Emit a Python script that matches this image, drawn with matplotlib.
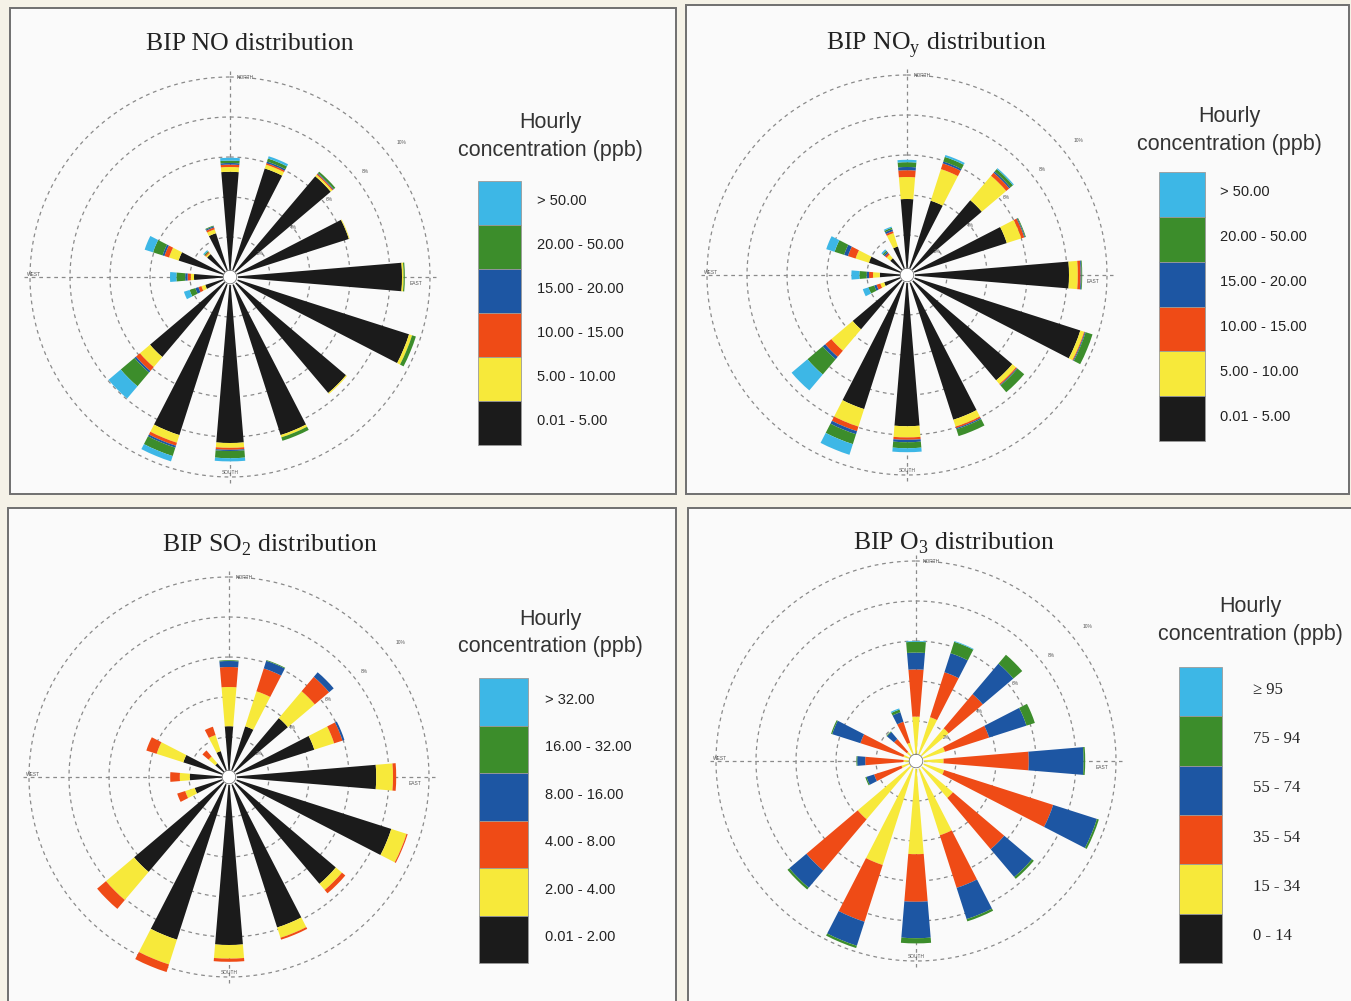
import numpy as np
import matplotlib
matplotlib.use("Agg")
import matplotlib.pyplot as plt
from matplotlib.patches import Rectangle

plt.rcParams["mathtext.fontset"] = "custom"
plt.rcParams["mathtext.rm"] = "Liberation Serif"

W, H = 1351, 1001

# Compass sectors, clockwise from north
directions = ["N", "NNE", "NE", "ENE", "E", "ESE", "SE", "SSE",
              "S", "SSW", "SW", "WSW", "W", "WNW", "NW", "NNW"]

# Concentration-class colours, lowest class first (drawn from the centre out)
class_colors = ["#1b1b1b", "#f7e93a", "#ef4b16", "#1d56a3", "#3c8d2b", "#3db7e6"]

# Frequency of each concentration class per direction (one row per class,
# rows ordered lowest class to highest; unit = one ring of the rose)
no_freq = [
    [2.63, 2.85, 3.30, 3.12, 4.30, 4.70, 3.80, 4.15, 4.15, 4.15, 2.62, 0.65, 0.90, 1.35, 0.75, 1.15],
    [0.12, 0.10, 0.05, 0.02, 0.04, 0.08, 0.03, 0.06, 0.12, 0.20, 0.33, 0.10, 0.08, 0.25, 0.04, 0.10],
    [0.06, 0.04, 0.03, 0.00, 0.00, 0.00, 0.00, 0.00, 0.05, 0.08, 0.13, 0.08, 0.08, 0.12, 0.03, 0.05],
    [0.04, 0.04, 0.02, 0.00, 0.00, 0.00, 0.00, 0.00, 0.03, 0.05, 0.05, 0.08, 0.06, 0.05, 0.00, 0.03],
    [0.06, 0.08, 0.05, 0.00, 0.03, 0.10, 0.00, 0.09, 0.18, 0.22, 0.45, 0.15, 0.22, 0.25, 0.03, 0.02],
    [0.07, 0.06, 0.00, 0.00, 0.00, 0.00, 0.00, 0.00, 0.08, 0.14, 0.40, 0.15, 0.16, 0.22, 0.03, 0.00],
]
noy_freq = [
    [1.90, 1.95, 2.45, 2.62, 4.05, 4.55, 3.45, 3.80, 3.78, 3.52, 1.78, 0.60, 0.68, 1.00, 0.55, 0.75],
    [0.55, 0.83, 0.80, 0.38, 0.22, 0.10, 0.12, 0.18, 0.28, 0.46, 0.70, 0.10, 0.17, 0.35, 0.12, 0.35],
    [0.17, 0.15, 0.10, 0.08, 0.07, 0.02, 0.03, 0.04, 0.06, 0.12, 0.20, 0.10, 0.10, 0.20, 0.05, 0.05],
    [0.08, 0.05, 0.04, 0.02, 0.02, 0.02, 0.02, 0.03, 0.06, 0.08, 0.08, 0.06, 0.06, 0.10, 0.04, 0.05],
    [0.12, 0.12, 0.08, 0.02, 0.02, 0.18, 0.22, 0.18, 0.15, 0.26, 0.50, 0.15, 0.18, 0.25, 0.04, 0.04],
    [0.06, 0.05, 0.03, 0.00, 0.00, 0.00, 0.00, 0.00, 0.10, 0.28, 0.52, 0.15, 0.20, 0.22, 0.04, 0.03],
]
so2_freq = [
    [1.27, 1.33, 1.93, 2.24, 3.68, 4.26, 3.50, 3.95, 4.20, 4.27, 3.11, 0.90, 0.98, 1.20, 0.45, 0.68],
    [0.98, 0.92, 0.88, 0.52, 0.42, 0.40, 0.20, 0.27, 0.34, 0.65, 0.92, 0.25, 0.25, 0.70, 0.22, 0.42],
    [0.50, 0.60, 0.47, 0.22, 0.08, 0.03, 0.11, 0.05, 0.08, 0.20, 0.29, 0.21, 0.24, 0.27, 0.20, 0.22],
    [0.15, 0.20, 0.15, 0.05, 0.00, 0.00, 0.00, 0.00, 0.00, 0.00, 0.00, 0.00, 0.00, 0.00, 0.00, 0.00],
    [0.02, 0.02, 0.00, 0.00, 0.00, 0.00, 0.00, 0.00, 0.00, 0.00, 0.00, 0.00, 0.00, 0.00, 0.00, 0.00],
    [0.00, 0.00, 0.00, 0.00, 0.00, 0.00, 0.00, 0.00, 0.00, 0.00, 0.00, 0.00, 0.00, 0.00, 0.00, 0.00],
]
o3_freq = [
    [0.05, 0.05, 0.05, 0.05, 0.05, 0.05, 0.05, 0.05, 0.05, 0.05, 0.05, 0.03, 0.03, 0.03, 0.03, 0.03],
    [1.06, 1.10, 1.02, 0.71, 0.64, 0.69, 1.16, 1.90, 2.28, 2.68, 1.86, 0.35, 0.28, 0.30, 0.27, 0.45],
    [1.18, 1.18, 1.12, 1.16, 2.13, 2.86, 1.68, 1.38, 1.19, 1.49, 1.68, 0.72, 0.96, 1.13, 0.42, 0.55],
    [0.42, 0.50, 1.00, 0.98, 1.37, 1.15, 0.91, 0.82, 0.91, 0.63, 0.56, 0.20, 0.20, 0.74, 0.23, 0.25],
    [0.27, 0.30, 0.29, 0.22, 0.04, 0.05, 0.06, 0.06, 0.13, 0.06, 0.06, 0.03, 0.02, 0.03, 0.02, 0.07],
    [0.02, 0.02, 0.00, 0.00, 0.00, 0.00, 0.00, 0.00, 0.00, 0.00, 0.00, 0.00, 0.00, 0.00, 0.00, 0.03],
]

# Legend class labels, highest class first
no_labels = ["> 50.00", "20.00 - 50.00", "15.00 - 20.00", "10.00 - 15.00", "5.00 - 10.00", "0.01 - 5.00"]
noy_labels = ["> 50.00", "20.00 - 50.00", "15.00 - 20.00", "10.00 - 15.00", "5.00 - 10.00", "0.01 - 5.00"]
so2_labels = ["> 32.00", "16.00 - 32.00", "8.00 - 16.00", "4.00 - 8.00", "2.00 - 4.00", "0.01 - 2.00"]
o3_labels = ["\u2265 95", "75 - 94", "55 - 74", "35 - 54", "15 - 34", "0 - 14"]

titles = [r"BIP NO distribution",
          r"BIP NO$_\mathregular{y}$ distribution",
          r"BIP SO$_\mathregular{2}$ distribution",
          r"BIP O$_\mathregular{3}$ distribution"]

ring_labels = ["2%", "4%", "6%", "8%", "10%"]

# Layout of the four panels (pixels)
panels = [
    dict(box=(10, 8, 666, 486), center=(230, 277), title=(250, 50),
         leg=(478, 181, 43, 264), leg_tx=537, head=(550, 128, 156), data=no_freq, labels=no_labels,
         serif_labels=False),
    dict(box=(686, 5, 663, 489), center=(907, 275), title=(936, 49),
         leg=(1159, 172, 46, 269), leg_tx=1220, head=(1229, 122, 150), data=noy_freq, labels=noy_labels,
         serif_labels=False),
    dict(box=(8, 508, 668, 500), center=(229, 777), title=(270, 552),
         leg=(479, 678, 49, 285), leg_tx=545, head=(550, 625, 652), data=so2_freq, labels=so2_labels,
         serif_labels=False),
    dict(box=(688, 508, 670, 500), center=(916, 761), title=(954, 550),
         leg=(1179, 667, 43, 296), leg_tx=1253, head=(1250, 612, 640), data=o3_freq, labels=o3_labels,
         serif_labels=True),
]

UNIT = 40.0      # pixels per ring
RMAX = 5.4       # radial extent of each rose axes
theta = np.deg2rad(np.arange(16) * 22.5)
bar_width = np.deg2rad(9.5)

fig = plt.figure(figsize=(W / 100, H / 100), dpi=100, facecolor="#f5f2e7")

bg = fig.add_axes([0, 0, 1, 1], zorder=0)
bg.set_xlim(0, W)
bg.set_ylim(H, 0)
bg.axis("off")

sans = "Liberation Sans"
serif = "Liberation Serif"

for p, title in zip(panels, titles):
    x0, y0, bw, bh = p["box"]
    bg.add_patch(Rectangle((x0, y0), bw, bh, facecolor="#fafafa",
                           edgecolor="#6f6f6f", lw=1.4))
    tx, ty = p["title"]
    bg.text(tx, ty, title, family=serif, fontsize=18.5, ha="center",
            va="baseline", color="#222222")

    # legend
    lx, ly, lw_, lh = p["leg"]
    step = lh / 6.0
    for i, (lab, col) in enumerate(zip(p["labels"], class_colors[::-1])):
        bg.add_patch(Rectangle((lx, ly + i * step), lw_, step, facecolor=col,
                               edgecolor="#9a9a9a", lw=0.6))
        if p["serif_labels"]:
            bg.text(p["leg_tx"], ly + (i + 0.5) * step - 2, lab, family=serif,
                    fontsize=12, ha="left", va="center", color="#222222")
        else:
            bg.text(p["leg_tx"], ly + (i + 0.5) * step - 2, lab, family=sans,
                    fontsize=10.5, ha="left", va="center", color="#222222")
    hx, hy1, hy2 = p["head"]
    bg.text(hx, hy1, "Hourly", family=sans, fontsize=15.5, ha="center",
            va="baseline", color="#333333")
    bg.text(hx, hy2, "concentration (ppb)", family=sans, fontsize=15.5,
            ha="center", va="baseline", color="#333333")

    # wind rose
    cx, cy = p["center"]
    half = RMAX * UNIT
    ax = fig.add_axes([(cx - half) / W, 1 - (cy + half) / H, 2 * half / W, 2 * half / H],
                      projection="polar", zorder=1)
    ax.set_facecolor("none")
    ax.set_theta_zero_location("N")
    ax.set_theta_direction(-1)
    ax.set_ylim(0, RMAX)
    ax.axis("off")

    ring_theta = np.linspace(0, 2 * np.pi, 400)
    for r in range(1, 6):
        ax.plot(ring_theta, np.full_like(ring_theta, r), color="#8a8a8a",
                lw=0.9, ls=(0, (3, 3)), zorder=1)
    for ang in np.deg2rad([0, 90, 180, 270]):
        ax.plot([ang, ang], [0, 5.15], color="#8a8a8a", lw=0.9,
                ls=(0, (3, 3)), zorder=1)

    bottom = np.zeros(16)
    for row, col in zip(p["data"], class_colors):
        vals = np.array(row)
        ax.bar(theta, vals, width=bar_width, bottom=bottom, color=col,
               edgecolor="none", linewidth=0, zorder=2)
        bottom += vals

    ax.fill_between(ring_theta, 0, 0.17, color="white", zorder=3)
    ax.plot(ring_theta, np.full_like(ring_theta, 0.17), color="#777777",
            lw=0.6, zorder=3)

    # compass and ring annotations
    small = dict(fontsize=3.5, color="#555555", family=sans, zorder=4)
    ax.text(np.deg2rad(2), 5.0, "NORTH", ha="left", va="center", **small)
    ax.text(np.pi, 4.9, "SOUTH", ha="center", va="center", **small)
    ax.text(np.deg2rad(92), 4.65, "EAST", ha="center", va="center", **small)
    ax.text(np.deg2rad(270), 4.9, "WEST", ha="center", va="bottom", **small)
    for rr, lab in zip([0.95, 2.0, 3.15, 4.3, 5.45], ring_labels):
        ax.text(np.deg2rad(52), rr, lab, ha="center", va="center", **small)

fig.savefig("out.png", dpi=100, facecolor=fig.get_facecolor())
